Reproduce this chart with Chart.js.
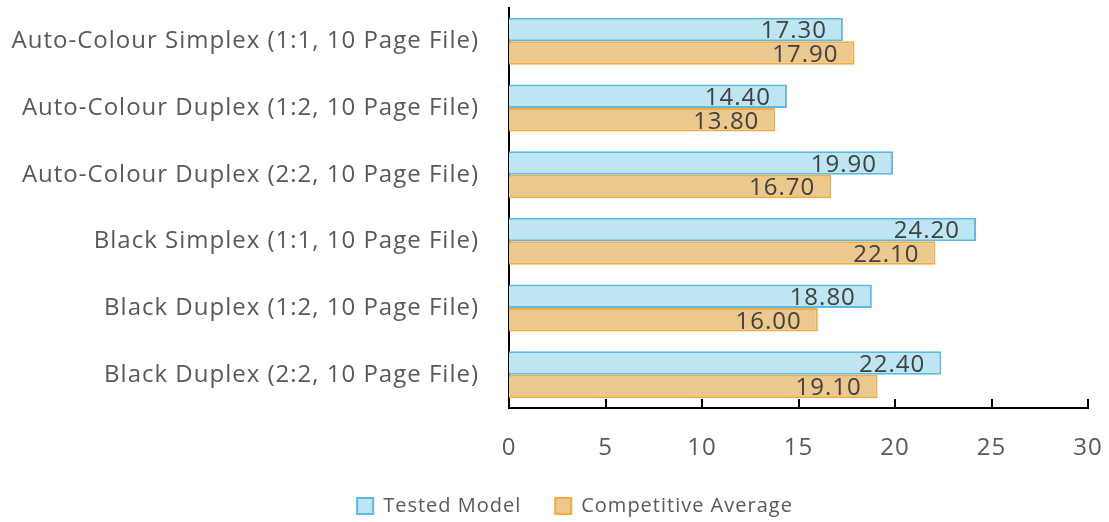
<!DOCTYPE html>
<html>
<head>
<meta charset="utf-8">
<script src="https://cdn.jsdelivr.net/npm/chart.js@4"></script>
<style>
  body { margin: 0; background: #fff; }
  #wrap { width: 1109px; height: 522px; }
</style>
</head>
<body>
<div id="wrap"><canvas id="myChart" width="1109" height="522"></canvas></div>
<script>
const categories = [
  'Auto-Colour Simplex (1:1, 10 Page File)',
  'Auto-Colour Duplex (1:2, 10 Page File)',
  'Auto-Colour Duplex (2:2, 10 Page File)',
  'Black Simplex (1:1, 10 Page File)',
  'Black Duplex (1:2, 10 Page File)',
  'Black Duplex (2:2, 10 Page File)'
];
const testedModel = [17.3, 14.4, 19.9, 24.2, 18.8, 22.4];
const competitiveAverage = [17.9, 13.8, 16.7, 22.1, 16.0, 19.1];
const xTicks = [0, 5, 10, 15, 20, 25, 30];

const FONT = '"Open Sans", Lato, sans-serif';
const PLOT_BOTTOM = 408;

// the original text is a bit wider, so space the letters out a little
const spacing = {
  id: 'spacing',
  beforeLayout(chart) { chart.ctx.letterSpacing = '1px'; },
  beforeDraw(chart) { chart.ctx.letterSpacing = '1px'; },
  afterLayout(chart) {
    // legend sits a little right of centre and low on the canvas
    const lg = chart.legend;
    const h = lg.bottom - lg.top;
    lg.left += 31;
    lg.right += 31;
    lg.top = 462;
    lg.bottom = lg.top + h;
    // give the x tick labels room so they are not clipped
    const xs = chart.scales.x;
    xs.bottom = 480;
    xs.height = xs.bottom - xs.top;
  }
};

// value labels at the end of each bar
const barLabels = {
  id: 'barLabels',
  afterDatasetsDraw(chart) {
    const ctx = chart.ctx;
    ctx.save();
    ctx.font = '24px ' + FONT;
    ctx.fillStyle = '#404040';
    ctx.textAlign = 'right';
    ctx.textBaseline = 'middle';
    chart.data.datasets.forEach((ds, i) => {
      chart.getDatasetMeta(i).data.forEach((bar, j) => {
        ctx.fillText(ds.data[j].toFixed(2), bar.x - 16, bar.y + 2);
      });
    });
    ctx.restore();
  }
};

// tick marks pointing up from the x axis
const innerTicks = {
  id: 'innerTicks',
  afterDraw(chart) {
    const ctx = chart.ctx;
    const xs = chart.scales.x;
    const bottom = chart.chartArea.bottom;
    ctx.save();
    ctx.strokeStyle = '#000';
    ctx.lineWidth = 2;
    xTicks.forEach(v => {
      const px = Math.round(xs.getPixelForValue(v));
      ctx.beginPath();
      ctx.moveTo(px, bottom);
      ctx.lineTo(px, bottom - 9);
      ctx.stroke();
    });
    ctx.restore();
  }
};

new Chart(document.getElementById('myChart'), {
  type: 'bar',
  data: {
    labels: categories,
    datasets: [
      {
        label: 'Tested Model',
        data: testedModel,
        backgroundColor: '#BDE5F2',
        borderColor: '#5BB9E8',
        borderWidth: 2,
        borderSkipped: 'left',
        categoryPercentage: 0.705,
        barPercentage: 1.0
      },
      {
        label: 'Competitive Average',
        data: competitiveAverage,
        backgroundColor: '#EBC98E',
        borderColor: '#F5AA3C',
        borderWidth: 2,
        borderSkipped: 'left',
        categoryPercentage: 0.705,
        barPercentage: 1.0
      }
    ]
  },
  options: {
    indexAxis: 'y',
    responsive: false,
    animation: false,
    layout: { padding: { top: 8, right: 21, left: 0, bottom: 0 } },
    scales: {
      x: {
        min: 0,
        max: 30,
        afterBuildTicks: (scale) => { scale.ticks = xTicks.map(v => ({ value: v })); },
        grid: { display: false, drawTicks: false },
        border: { display: true, color: '#000', width: 2 },
        ticks: {
          padding: 26,
          color: '#595959',
          font: { family: FONT, size: 24 }
        },
        afterFit: (scale) => {
          const lg = scale.chart.legend;
          scale.height = 522 - PLOT_BOTTOM - (lg ? lg.height : 0);
          scale.paddingLeft = 0;
          scale.paddingRight = 0;
        }
      },
      y: {
        grid: { display: false, drawTicks: false },
        border: { display: true, color: '#000', width: 2 },
        ticks: {
          padding: 30,
          color: '#595959',
          font: { family: FONT, size: 24 }
        },
        afterFit: (scale) => {
          scale.width = 509;
          scale.paddingTop = 0;
          scale.paddingBottom = 0;
        }
      }
    },
    plugins: {
      legend: {
        position: 'bottom',
        labels: {
          boxWidth: 16,
          boxHeight: 16,
          padding: 34,
          color: '#595959',
          font: { family: FONT, size: 20 }
        }
      },
      tooltip: { enabled: false }
    }
  },
  plugins: [spacing, barLabels, innerTicks]
});
</script>
</body>
</html>
